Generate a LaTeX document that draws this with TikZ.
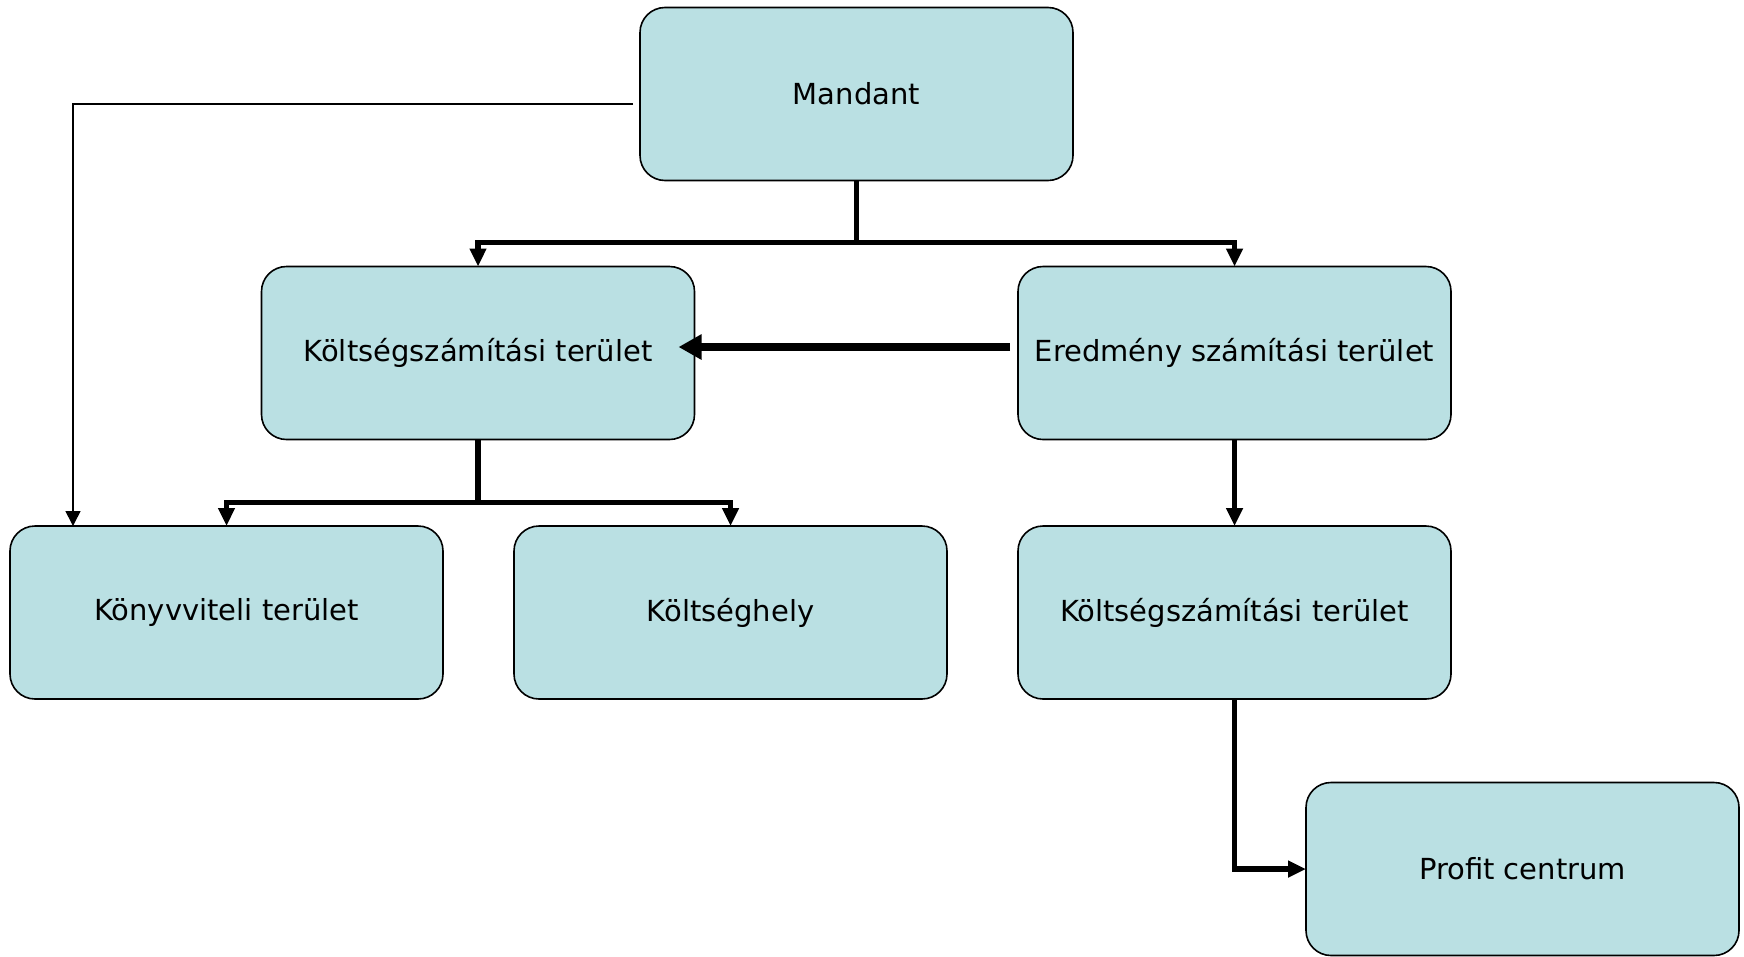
\documentclass[tikz,border=0pt]{standalone}
\usepackage{fontspec}
\setmainfont{DejaVu Sans}
\usetikzlibrary{arrows.meta,calc}
\definecolor{boxfill}{RGB}{186,224,227}
\begin{document}
\begin{tikzpicture}[x=1pt,y=-1pt,
  box/.style={draw,line width=1.6pt,fill=boxfill,rounded corners=25pt,
    minimum width=433pt,minimum height=173pt,outer sep=0pt,inner sep=0pt,
    font=\fontsize{29}{34}\selectfont},
  heavy/.style={line width=5.5pt},
  heavyarrow/.style={line width=5.5pt,-{Triangle[length=18pt,width=16pt]}},
  bigarrow/.style={line width=7.5pt,-{Triangle[length=23pt,width=24pt]}},
  thinarrow/.style={line width=1.6pt,-{Triangle[length=15pt,width=15pt]}}]
\useasboundingbox (0,0) rectangle (1744,956);
\node[box] (m)  at (856.5,94)    {Mandant};
\node[box] (kl) at (478,353)     {Költségszámítási terület};
\node[box] (er) at (1234.5,353)  {Eredmény számítási terület};
\node[box] (ko) at (226.5,612.5) {Könyvviteli terület};
\node[box] (kh) at (730.5,612.5) {Költséghely};
\node[box] (kr) at (1234.5,612.5){Költségszámítási terület};
\node[box] (pc) at (1522.5,869)  {Profit centrum};
% top bus
\coordinate (b1) at ($(m.south)+(0,62)$);
\draw[heavy] (m.south) -- (b1);
\draw[heavyarrow] (b1) -| (kl.north);
\draw[heavyarrow] (b1) -| (er.north);
% lower bus
\coordinate (b2) at ($(kl.south)+(0,63)$);
\draw[heavy] (kl.south) -- (b2);
\draw[heavyarrow] (b2) -| (ko.north);
\draw[heavyarrow] (b2) -| (kh.north);
% thin line Mandant -> Konyvviteli
\coordinate (tc) at (73,104);
\draw[thinarrow] ($(m.west)+(-7,10)$) -- (tc) -- (tc |- ko.north);
% Eredmeny -> Koltsegszamitasi
\draw[bigarrow] ($(er.west)+(-8,-6)$) -- ($(kl.east)+(-16,-6)$);
% Eredmeny -> Koltsegszamitasi (right)
\draw[heavyarrow] (er.south) -- (kr.north);
% Koltsegszamitasi -> Profit centrum
\draw[heavyarrow] (kr.south) |- (pc.west);
\end{tikzpicture}
\end{document}
